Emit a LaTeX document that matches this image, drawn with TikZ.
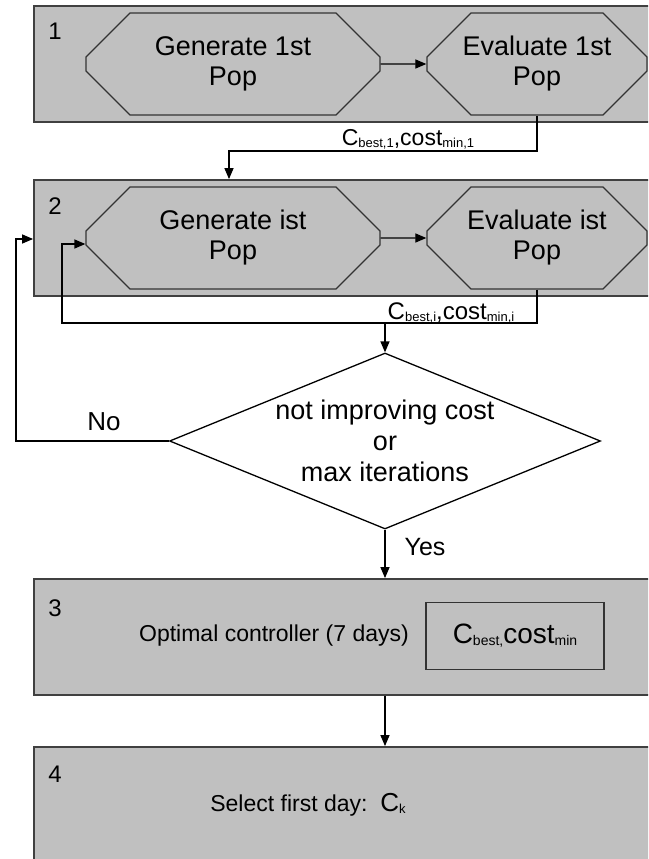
\documentclass[tikz,border=0pt]{standalone}
\usepackage{fontspec}
\setmainfont{Liberation Sans}
\usetikzlibrary{arrows.meta,shapes.misc,shapes.geometric}

\definecolor{stagegray}{RGB}{192,192,192}
\newcommand\fsz[1]{\fontsize{#1}{#1}\selectfont}
\newcommand\subtxt[2]{\raisebox{-2pt}{\fsz{#1}#2}}

\begin{document}
\begin{tikzpicture}[x=1pt, y=-1pt,
    stage/.style={draw=black!75, line width=1.8pt, fill=stagegray, minimum width=646pt, minimum height=116pt, inner sep=0pt},
    octa/.style={chamfered rectangle, chamfered rectangle xsep=22pt, chamfered rectangle ysep=22pt, draw=black!80, line width=1.3pt, fill=stagegray, minimum height=102pt, inner sep=0pt, align=center, font=\fsz{27}},
    arr/.style={-{Triangle[length=11pt,width=9pt]}, line width=1.3pt},
    num/.style={font=\fsz{24}}]
  \useasboundingbox (0,0) rectangle (648,859);
  \clip (0,0) rectangle (648,859);

  % stages
  \node [stage] (box1) at (357,64) {};
  \node [stage] (box2) at (357,238) {};
  \node [stage] (box3) at (357,637) {};
  \node [stage] (box4) at (357,805) {};
  \node [num] (n1) at (55,31) {1};
  \node [num] (n2) at (55,206) {2};
  \node [num] (n3) at (55,608) {3};
  \node [num] (n4) at (55,774) {4};

  \node [octa, minimum width=294pt] (gen1) at (233,64) {Generate 1st\\[3pt]Pop};
  \node [octa, minimum width=220pt] (eval1) at (537,64) {Evaluate 1st\\[3pt]Pop};
  \node [octa, minimum width=294pt] (gen2) at (233,238) {Generate ist\\[3pt]Pop};
  \node [octa, minimum width=220pt] (eval2) at (537,238) {Evaluate ist\\[3pt]Pop};
  \draw [arr] (gen1) -- (eval1);
  \draw [arr] (gen2) -- (eval2);

  % first population to loop
  \coordinate (c1) at (229,151);
  \draw [arr] (eval1.south) |- (c1) -- (c1 |- box2.north);
  \node (lab1) at (408,139) {\fsz{23}C\subtxt{13}{best,1},cost\subtxt{13}{min,1}};

  % decision
  \node [diamond, draw, line width=1.3pt, minimum width=431pt, minimum height=176pt, aspect=2.45, inner sep=0pt, align=center, font=\fsz{27}] (dec) at (385,441) {not improving cost\\[4pt]or\\[4pt]max iterations};
  \coordinate (c2) at (62,323);
  \draw [arr] (eval2.south) |- (c2) |- ([yshift=-6pt]gen2.west);
  \draw [arr] (dec.north |- c2) -- (dec.north);
  \node (lab2) at (451,313) {\fsz{24}C\subtxt{13}{best,i},cost\subtxt{13}{min,i}};

  \coordinate (c3) at (16,441);
  \draw [arr] (dec.west) -- (c3) |- ([yshift=-1pt]box2.west);
  \node [font=\fsz{26}] (no) at (104,422) {No};

  \draw [arr] (dec.south) -- (dec.south |- box3.north);
  \node [font=\fsz{25}] (yes) at (425,547) {Yes};

  % result
  \node [font=\fsz{23}] (opt) at (274,636) {Optimal controller (7 days)};
  \node [draw=black!80, line width=1.3pt, minimum width=178pt, minimum height=67pt, inner sep=0pt] (best) at (515,636) {\fsz{28}C\subtxt{14}{best,}cost\subtxt{14}{min}};
  \draw [arr] (dec.south |- box3.south) -- (dec.south |- box4.north);
  \node (sel) at (308,805) {\fsz{23}Select first day:\ \ \fsz{26}C\subtxt{13}{k}};
\end{tikzpicture}
\end{document}
